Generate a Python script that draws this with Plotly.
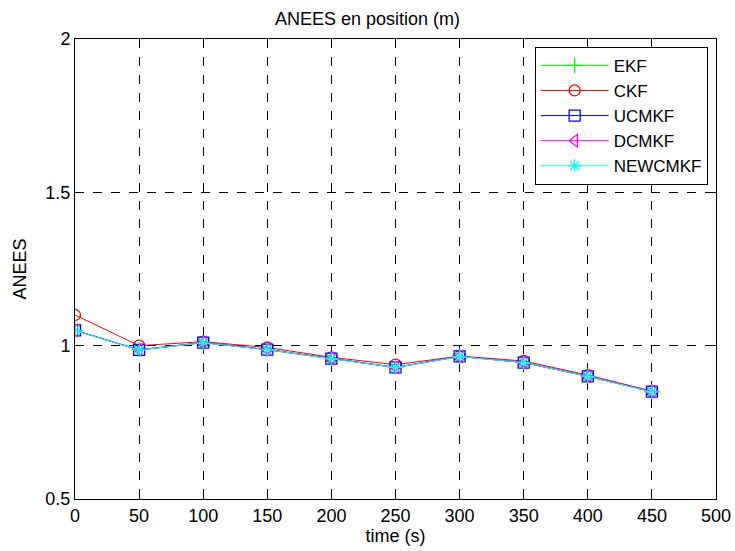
import plotly.graph_objects as go

time = [0, 50, 100, 150, 200, 250, 300, 350, 400, 450]
ekf = [1.050, 0.987, 1.010, 0.988, 0.958, 0.930, 0.965, 0.946, 0.901, 0.850]
ckf = [1.100, 1.000, 1.013, 0.994, 0.962, 0.938, 0.966, 0.950, 0.904, 0.852]
ucmkf = [1.050, 0.986, 1.010, 0.987, 0.958, 0.929, 0.965, 0.945, 0.900, 0.850]
dcmkf = [1.050, 0.986, 1.010, 0.987, 0.958, 0.929, 0.965, 0.945, 0.900, 0.850]
newcmkf = [1.049, 0.986, 1.009, 0.987, 0.957, 0.929, 0.964, 0.945, 0.900, 0.849]

series = [
    ("EKF", ekf, "#00ff00", "cross-thin"),
    ("CKF", ckf, "#ff0000", "circle-open"),
    ("UCMKF", ucmkf, "#0000ff", "square-open"),
    ("DCMKF", dcmkf, "#ff00ff", "triangle-left-open"),
    ("NEWCMKF", newcmkf, "#00ffff", "asterisk-open"),
]

fig = go.Figure()
for name, vals, col, sym in series:
    fig.add_trace(go.Scatter(
        x=time, y=vals, name=name, mode="lines+markers", legendgroup=name,
        line=dict(color=col, width=1),
        marker=dict(symbol=sym, size=11, color=col, line=dict(color=col, width=1.3)),
    ))

FS = 18
axis_common = dict(
    showline=True, linecolor="black", linewidth=1, mirror="ticks",
    ticks="inside", ticklen=5, tickcolor="black",
    showgrid=True, gridcolor="black", griddash="dash", gridwidth=1,
    zeroline=False, tickfont=dict(size=FS, color="black"), automargin=False,
)

fig.update_layout(
    width=735, height=551,
    margin=dict(l=75, r=19, t=39, b=52),
    paper_bgcolor="white", plot_bgcolor="white",
    font=dict(family="Liberation Sans, Arial, sans-serif", size=FS, color="black"),
    title=dict(text="ANEES en position (m)", x=0.5, xanchor="center", y=1 - 19 / 551, yanchor="middle",
               font=dict(size=FS)),
    xaxis=dict(range=[0, 500], tickvals=list(range(0, 501, 50)),
               title=dict(text="time (s)", standoff=0, font=dict(size=FS)), **axis_common),
    yaxis=dict(range=[0.5, 2], tickvals=[0.5, 1, 1.5, 2], ticktext=["0.5", "1", "1.5", "2"],
               title=dict(text="ANEES", standoff=14, font=dict(size=FS)), **axis_common),
    legend=dict(x=0.987, y=0.983, xanchor="right", yanchor="top",
                bordercolor="black", borderwidth=1, bgcolor="white",
                font=dict(size=17), tracegroupgap=0, itemwidth=68),
    showlegend=True,
)

fig.write_html("out.html", config={"displayModeBar": False},
               post_script="document.body.style.margin='0';document.body.style.overflow='hidden';")
